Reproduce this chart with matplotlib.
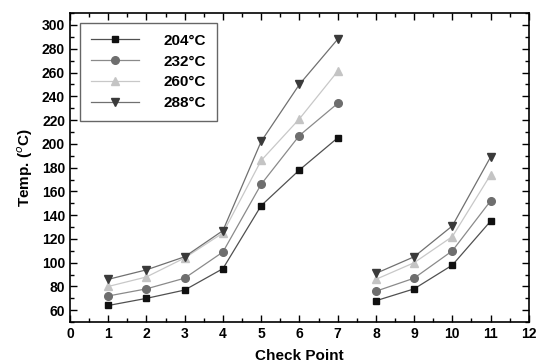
import numpy as np
import matplotlib.pyplot as plt
from matplotlib.ticker import MultipleLocator

plt.rcParams['font.family'] = ['Liberation Sans', 'DejaVu Sans']

check_points = [1, 2, 3, 4, 5, 6, 7, 8, 9, 10, 11]
t204 = [64, 70, 77, 95, 148, 178, 205, 68, 78, 98, 135]
t232 = [72, 78, 87, 109, 166, 207, 234, 76, 87, 110, 152]
t260 = [80, 88, 104, 125, 186, 221, 261, 86, 100, 122, 174]
t288 = [86, 94, 105, 127, 202, 250, 288, 91, 105, 131, 189]
labels = ['204°C', '232°C', '260°C', '288°C']

series = [t204, t232, t260, t288]
markers = ['s', 'o', '^', 'v']
msizes = [5, 5.5, 6, 6]
mcolors = ['#101010', '#6e6e6e', '#c4c4c4', '#3a3a3a']
lcolors = ['#505050', '#8a8a8a', '#c8c8c8', '#707070']

fig = plt.figure(figsize=(5.38, 3.64), dpi=100)
ax = fig.add_axes([0.130, 0.115, 0.853, 0.849])

x = np.array(check_points)
for vals, m, ms, mc, lc, lab in zip(series, markers, msizes, mcolors, lcolors, labels):
    v = np.array(vals)
    # two separate runs: points 1-7 and 8-11
    ax.plot(x[:7], v[:7], color=lc, lw=0.9, marker=m, ms=ms,
            mfc=mc, mec=mc, label=lab)
    ax.plot(x[7:], v[7:], color=lc, lw=0.9, marker=m, ms=ms,
            mfc=mc, mec=mc)

ax.set_xlim(0, 12)
ax.set_ylim(50, 310)
ax.xaxis.set_major_locator(MultipleLocator(1))
ax.xaxis.set_minor_locator(MultipleLocator(0.5))
ax.yaxis.set_minor_locator(MultipleLocator(10))
ax.set_yticks(np.arange(60, 301, 20))
ax.tick_params(which='both', direction='in', top=True, right=True,
               labelsize=10, width=1.0)
ax.tick_params(which='major', length=5)
ax.tick_params(which='minor', length=3)
for lab in ax.get_xticklabels() + ax.get_yticklabels():
    lab.set_fontweight('bold')
for s in ax.spines.values():
    s.set_linewidth(1.2)

ax.set_xlabel('Check Point', fontsize=11, fontweight='bold', labelpad=6)
ax.set_ylabel('Temp. ($^o$C)', fontsize=11, fontweight='bold', labelpad=5)

leg = ax.legend(loc='upper left', bbox_to_anchor=(0.015, 0.978),
                prop={'weight': 'bold', 'size': 11}, fancybox=False,
                edgecolor='#404040', handlelength=3.2, borderpad=0.7,
                labelspacing=0.45, handletextpad=1.6, borderaxespad=0.2)
leg.get_frame().set_linewidth(1.0)

fig.savefig('out.png', dpi=100)
